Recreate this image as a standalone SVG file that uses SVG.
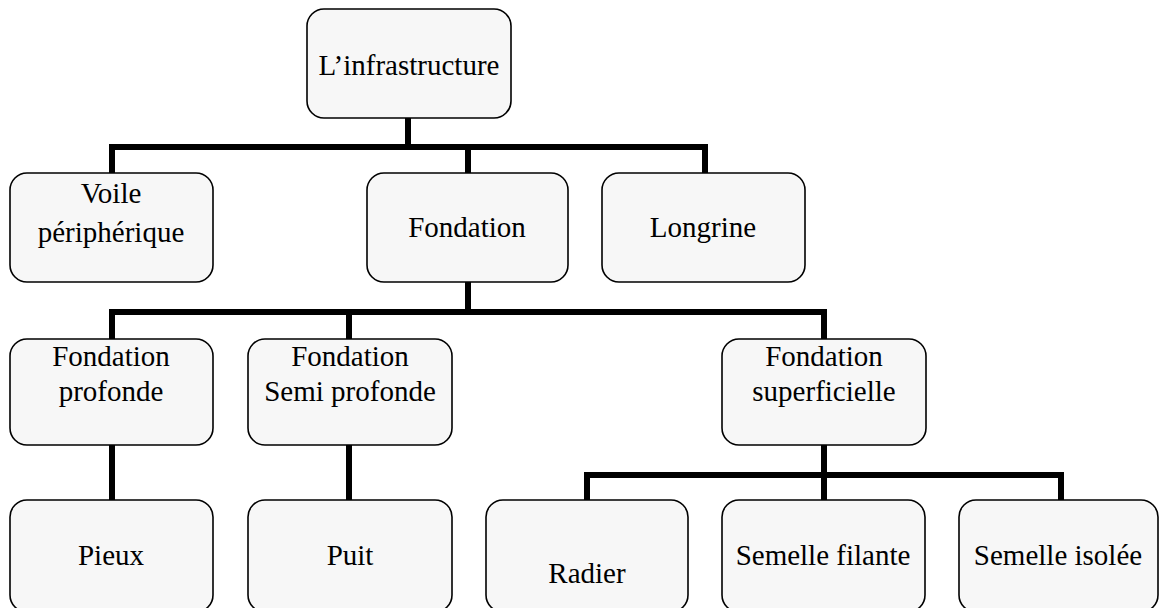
<svg xmlns="http://www.w3.org/2000/svg" width="1160" height="608" viewBox="0 0 1160 608">
  <style>
    .box { fill: #f7f7f7; stroke: #000; stroke-width: 1.6; }
    .lbl { font-family: "Liberation Serif", "Times New Roman", serif; font-size: 29px; fill: #000; text-anchor: middle; }
    .link { fill: none; stroke: #000; stroke-width: 6; stroke-linejoin: miter; stroke-linecap: butt; }
  </style>
  <rect width="1160" height="608" fill="#fff"/>

  <!-- connectors -->
  <g id="connectors">
    <path class="link" d="M408 118 V147"/>
    <path class="link" d="M112 173 V147 H705 V173"/>
    <path class="link" d="M468 147 V173"/>
    <path class="link" d="M468 282 V312"/>
    <path class="link" d="M112 339 V312 H824 V339"/>
    <path class="link" d="M349 312 V339"/>
    <path class="link" d="M112 445 V500"/>
    <path class="link" d="M349 445 V500"/>
    <path class="link" d="M824 445 V500"/>
    <path class="link" d="M587 500 V475 H1061 V500"/>
  </g>

  <!-- level 0 -->
  <g id="infrastructure">
    <rect class="box" x="307" y="9" width="204" height="109" rx="17"/>
    <text class="lbl" x="409" y="75">L’infrastructure</text>
  </g>

  <!-- level 1 -->
  <g id="voile">
    <rect class="box" x="10" y="173" width="203" height="109" rx="17"/>
    <text class="lbl" x="111" y="203">Voile</text>
    <text class="lbl" x="111" y="242">périphérique</text>
  </g>
  <g id="fondation">
    <rect class="box" x="367" y="173" width="201" height="109" rx="17"/>
    <text class="lbl" x="467" y="237">Fondation</text>
  </g>
  <g id="longrine">
    <rect class="box" x="602" y="173" width="203" height="109" rx="17"/>
    <text class="lbl" x="703" y="237">Longrine</text>
  </g>

  <!-- level 2 -->
  <g id="fondation-profonde">
    <rect class="box" x="10" y="339" width="203" height="106" rx="17"/>
    <text class="lbl" x="111" y="366">Fondation</text>
    <text class="lbl" x="111" y="401">profonde</text>
  </g>
  <g id="fondation-semi-profonde">
    <rect class="box" x="248" y="339" width="204" height="106" rx="17"/>
    <text class="lbl" x="350" y="366">Fondation</text>
    <text class="lbl" x="350" y="401">Semi profonde</text>
  </g>
  <g id="fondation-superficielle">
    <rect class="box" x="722" y="339" width="204" height="106" rx="17"/>
    <text class="lbl" x="824" y="366">Fondation</text>
    <text class="lbl" x="824" y="401">superficielle</text>
  </g>

  <!-- level 3 -->
  <g id="pieux">
    <rect class="box" x="10" y="500" width="203" height="112" rx="17"/>
    <text class="lbl" x="111" y="565">Pieux</text>
  </g>
  <g id="puit">
    <rect class="box" x="248" y="500" width="204" height="112" rx="17"/>
    <text class="lbl" x="350" y="565">Puit</text>
  </g>
  <g id="radier">
    <rect class="box" x="486" y="500" width="202" height="112" rx="17"/>
    <text class="lbl" x="587" y="583">Radier</text>
  </g>
  <g id="semelle-filante">
    <rect class="box" x="722" y="500" width="203" height="112" rx="17"/>
    <text class="lbl" x="823" y="565">Semelle filante</text>
  </g>
  <g id="semelle-isolee">
    <rect class="box" x="959" y="500" width="199" height="112" rx="17"/>
    <text class="lbl" x="1058" y="565">Semelle isolée</text>
  </g>
</svg>
